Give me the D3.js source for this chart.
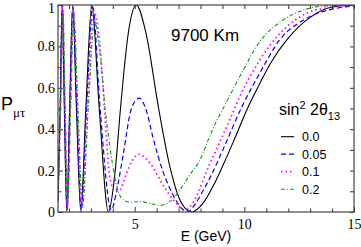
<!DOCTYPE html>
<html>
<head>
<meta charset="utf-8">
<script src="https://cdn.jsdelivr.net/npm/d3@7"></script>
<style>
  body { margin: 0; background: #fff; }
  svg { display: block; }
  .tick text { font-family: "Liberation Serif", "DejaVu Serif", serif; font-size: 14px; fill: #000; }
  .domain { display: none; }
  .tick line { stroke: #333; }
</style>
</head>
<body>
<div id="chart"></div>
<script>
// sin^2 2theta13 values, one curve each
const mixings = ["0.0", "0.05", "0.1", "0.2"];

// E (GeV) and P_mu tau
const eBlack = [1.5, 1.6, 1.69, 1.79, 1.9, 2.03, 2.17, 2.34, 2.54, 2.77, 3.04, 3.38, 3.8, 4.1, 4.35, 4.7, 5.07, 5.5, 6.09, 6.6, 7.1, 7.61, 8.1, 8.6, 9.0, 9.5, 10.14, 10.7, 11.2, 12.0, 13.0, 14.0, 15.0];
const pBlack = [0.05, 0.5, 1.0, 0.5, 0.0, 0.5, 1.0, 0.5, 0.0, 0.5, 1.0, 0.5, 0.0, 0.19, 0.5, 0.86, 1.0, 0.87, 0.5, 0.22, 0.05, 0.0, 0.04, 0.13, 0.22, 0.34, 0.5, 0.62, 0.72, 0.84, 0.94, 0.99, 1.0];

const eBlue = [1.5, 1.6, 1.7, 1.8, 1.91, 2.04, 2.18, 2.36, 2.56, 2.8, 3.08, 3.42, 3.93, 4.17, 4.47, 4.85, 5.2, 5.53, 5.84, 6.29, 6.75, 7.13, 7.4, 7.7, 8.1, 8.57, 9.1, 9.94, 10.7, 11.6, 12.83, 14.0, 15.0];
const pBlue = [0.06, 0.5, 1.0, 0.5, 0.01, 0.5, 0.99, 0.5, 0.01, 0.5, 0.99, 0.5, 0.01, 0.1, 0.275, 0.5, 0.55, 0.49, 0.356, 0.195, 0.082, 0.018, 0.0, 0.03, 0.1, 0.195, 0.32, 0.52, 0.67, 0.83, 0.935, 0.98, 0.995];

const ePink = [1.5, 1.61, 1.71, 1.81, 1.92, 2.05, 2.19, 2.38, 2.58, 2.83, 3.12, 3.48, 3.65, 3.86, 4.12, 4.32, 4.62, 4.9, 5.15, 5.45, 5.76, 6.29, 6.83, 7.28, 7.81, 8.27, 8.8, 9.33, 9.79, 10.7, 11.6, 12.83, 14.0, 15.0];
const pPink = [0.07, 0.5, 0.99, 0.5, 0.02, 0.5, 0.98, 0.5, 0.02, 0.5, 0.97, 0.72, 0.45, 0.17, 0.1, 0.106, 0.187, 0.25, 0.279, 0.265, 0.227, 0.13, 0.05, 0.01, 0.074, 0.195, 0.32, 0.444, 0.557, 0.734, 0.86, 0.96, 0.99, 1.0];

const eGreen = [1.5, 1.62, 1.73, 1.83, 1.94, 2.08, 2.22, 2.41, 2.62, 2.88, 3.17, 3.33, 3.5, 3.63, 3.8, 4.0, 4.17, 4.4, 4.77, 5.23, 5.69, 6.14, 6.6, 7.05, 7.51, 7.97, 8.4, 8.73, 9.03, 9.79, 10.7, 11.6, 12.83, 14.0, 15.0];
const pGreen = [0.1, 0.5, 0.96, 0.5, 0.03, 0.5, 0.95, 0.5, 0.03, 0.5, 0.93, 0.84, 0.68, 0.52, 0.37, 0.22, 0.13, 0.066, 0.047, 0.05, 0.042, 0.032, 0.05, 0.105, 0.179, 0.25, 0.36, 0.44, 0.5, 0.654, 0.823, 0.915, 0.98, 0.998, 1.0];

const xMajor = [5, 10, 15];
const xMinor = [2, 3, 4, 6, 7, 8, 9, 11, 12, 13, 14];
const yMajor = [0, 0.2, 0.4, 0.6, 0.8, 1];
const yMinor = [0.1, 0.3, 0.5, 0.7, 0.9];

const width = 361, height = 247;
const mLeft = 58, mRight = 354, mTop = 5, mBottom = 212;

const x = d3.scaleLinear().domain([1.5, 15]).range([mLeft, mRight]);
const y = d3.scaleLinear().domain([0, 1]).range([mBottom, mTop]);

const svg = d3.select("#chart").append("svg")
    .attr("width", width)
    .attr("height", height);

svg.append("defs").append("clipPath").attr("id", "clip")
  .append("rect")
    .attr("x", mLeft).attr("y", mTop)
    .attr("width", mRight - mLeft).attr("height", mBottom - mTop);

const series = [
  {e: eBlack, p: pBlack, color: "#000000", dash: null, w: 1.1},
  {e: eBlue, p: pBlue, color: "#0000ff", dash: "5,3", w: 1.2},
  {e: ePink, p: pPink, color: "#ff00ff", dash: "1.5,3", w: 1.8},
  {e: eGreen, p: pGreen, color: "#109a10", dash: "4,2,1,2", w: 1.1}
];

const line = d3.line()
    .x(d => x(d[0]))
    .y(d => y(d[1]))
    .curve(d3.curveMonotoneX);

// axes, ticks pointing inward
const fmt = d => d === 0 ? "0" : d === 1 ? "1" : d3.format(".1f")(d);

svg.append("g")
    .attr("transform", "translate(0," + mBottom + ")")
    .call(d3.axisBottom(x).tickValues(xMajor).tickSize(-5).tickPadding(7).tickFormat(d3.format("d")));
svg.append("g")
    .attr("transform", "translate(0," + mBottom + ")")
    .call(d3.axisBottom(x).tickValues(xMinor).tickSize(-3.5).tickFormat(""));
svg.append("g")
    .attr("transform", "translate(0," + mTop + ")")
    .call(d3.axisTop(x).tickValues(xMajor.concat(xMinor)).tickSize(-4).tickFormat(""));

const yAxisG = svg.append("g")
    .attr("transform", "translate(" + mLeft + ",0)")
    .call(d3.axisLeft(y).tickValues(yMajor).tickSize(-5).tickPadding(3).tickFormat(fmt));
// the top label sits a little lower so it stays inside the picture
yAxisG.selectAll(".tick text").filter(d => d === 1).attr("dy", "0.55em");
svg.append("g")
    .attr("transform", "translate(" + mLeft + ",0)")
    .call(d3.axisLeft(y).tickValues(yMinor).tickSize(-3.5).tickFormat(""));
svg.append("g")
    .attr("transform", "translate(" + mRight + ",0)")
    .call(d3.axisRight(y).tickValues(yMajor.concat(yMinor)).tickSize(-4).tickFormat(""));

// curves
const plot = svg.append("g").attr("clip-path", "url(#clip)");
series.forEach(s => {
  plot.append("path")
      .datum(d3.zip(s.e, s.p))
      .attr("d", line)
      .attr("fill", "none")
      .attr("stroke", s.color)
      .attr("stroke-width", s.w)
      .attr("stroke-dasharray", s.dash);
});

// frame
svg.append("rect")
    .attr("x", mLeft).attr("y", mTop)
    .attr("width", mRight - mLeft).attr("height", mBottom - mTop)
    .attr("fill", "none")
    .attr("stroke", "#444")
    .attr("stroke-width", 1.2);

// labels
const sans = "'Liberation Sans', Arial, sans-serif";

svg.append("text")
    .attr("x", 206).attr("y", 241)
    .attr("text-anchor", "middle")
    .style("font-family", sans).style("font-size", "14px")
    .text("E (GeV)");

const py = svg.append("text")
    .attr("x", 1).attr("y", 110)
    .style("font-family", sans).style("font-size", "18px");
py.append("tspan").text("P");
py.append("tspan")
    .attr("dy", 7)
    .style("font-family", "'Liberation Serif', serif").style("font-size", "13px")
    .text("μτ");

svg.append("text")
    .attr("x", 171).attr("y", 40.5)
    .style("font-family", sans).style("font-size", "17px")
    .text("9700 Km");

const ttl = svg.append("text")
    .attr("x", 279).attr("y", 115)
    .style("font-family", sans).style("font-size", "16px");
ttl.append("tspan").text("sin");
ttl.append("tspan").attr("dy", -6).style("font-size", "11px").text("2");
ttl.append("tspan").attr("dy", 6).text(" 2θ");
ttl.append("tspan").attr("dy", 5).style("font-size", "11px").text("13");

// legend
const leg = svg.append("g");
series.forEach((s, i) => {
  const ly = 136.7 + i * 17.5;
  leg.append("line")
      .attr("x1", 281).attr("x2", 294)
      .attr("y1", ly).attr("y2", ly)
      .attr("stroke", s.color)
      .attr("stroke-width", s.w)
      .attr("stroke-dasharray", s.dash);
  leg.append("text")
      .attr("x", 302).attr("y", ly + 4.3)
      .style("font-family", sans).style("font-size", "12.5px")
      .text(mixings[i]);
});
</script>
</body>
</html>
